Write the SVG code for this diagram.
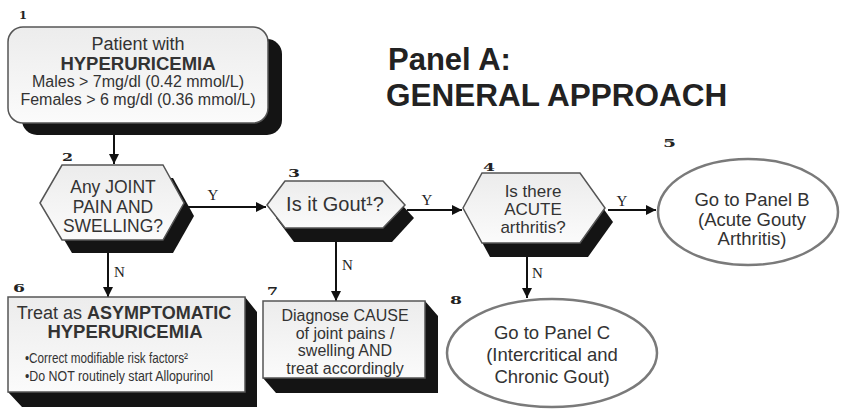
<svg xmlns="http://www.w3.org/2000/svg" width="843" height="409" viewBox="0 0 843 409">
<defs>
<linearGradient id="g" x1="0" y1="0" x2="0" y2="1">
<stop offset="0" stop-color="#ececec"/>
<stop offset="1" stop-color="#fbfbfb"/>
</linearGradient>
<marker id="ah" viewBox="0 0 10 10" refX="10" refY="5" markerWidth="10" markerHeight="10" markerUnits="userSpaceOnUse" orient="auto">
<path d="M0,0 L10,5 L0,10 z" fill="#111"/>
</marker>
<style>
.t{font-family:"Liberation Sans",Arial,sans-serif;fill:#333;text-anchor:middle}
.b{font-weight:bold}
.num{font-family:"DejaVu Serif",serif;font-weight:bold;font-size:11px;fill:#222}
.lbl{font-family:"Liberation Serif","Times New Roman",serif;font-size:15px;fill:#222}
.face{fill:url(#g);stroke:#555;stroke-width:1.5}
.sh{fill:#141414}
.ell{fill:#fff;stroke:#7a7a7a;stroke-width:2.5}
.c{stroke:#111;stroke-width:2;fill:none;marker-end:url(#ah)}
</style>
</defs>
<rect width="843" height="409" fill="#fff"/>

<g id="title">
<text x="388" y="70" style="font-family:'Liberation Sans',Arial,sans-serif;font-weight:bold;font-size:31px;fill:#222">Panel A:</text>
<text x="386" y="106" style="font-family:'Liberation Sans',Arial,sans-serif;font-weight:bold;font-size:31.5px;fill:#222">GENERAL APPROACH</text>
</g>

<g id="connectors">
<line class="c" x1="114" y1="134" x2="114" y2="164"/>
<line class="c" x1="186" y1="207" x2="266" y2="207"/>
<text class="lbl" x="213" y="200" text-anchor="middle">Y</text>
<line class="c" x1="407" y1="210" x2="462" y2="210"/>
<text class="lbl" x="427" y="205" text-anchor="middle">Y</text>
<line class="c" x1="608" y1="210" x2="656" y2="210"/>
<text class="lbl" x="622" y="206" text-anchor="middle">Y</text>
<line class="c" x1="108" y1="252" x2="108" y2="297"/>
<text class="lbl" x="114" y="277">N</text>
<line class="c" x1="336" y1="241" x2="336" y2="301"/>
<text class="lbl" x="342" y="270">N</text>
<line class="c" x1="527" y1="256" x2="527" y2="298"/>
<text class="lbl" x="532" y="278">N</text>
</g>

<g id="node1">
<text class="num" x="19" y="19" textLength="8" lengthAdjust="spacingAndGlyphs">1</text>
<rect class="sh" x="22" y="39" width="260" height="96" rx="15"/>
<rect class="face" x="8" y="27" width="260" height="96" rx="15"/>
<text class="t" x="138" y="50" font-size="18">Patient with</text>
<text class="t b" x="138" y="70" font-size="18.5">HYPERURICEMIA</text>
<text class="t" x="138" y="87" font-size="16">Males &gt; 7mg/dl (0.42 mmol/L)</text>
<text class="t" x="138" y="105" font-size="16">Females &gt; 6 mg/dl (0.36 mmol/L)</text>
</g>

<g id="node2">
<text class="num" x="62" y="161" textLength="11" lengthAdjust="spacingAndGlyphs">2</text>
<polygon class="sh" points="50,216 72,178 173,178 194,216 173,253 72,253"/>
<polygon class="face" points="40,203 62,165 163,165 184,203 163,240 62,240"/>
<text class="t" x="113" y="193" font-size="17.5">Any JOINT</text>
<text class="t" x="113" y="213" font-size="17.5">PAIN AND</text>
<text class="t" x="113" y="232" font-size="17.5">SWELLING?</text>
</g>

<g id="node3">
<text class="num" x="288" y="177" textLength="12" lengthAdjust="spacingAndGlyphs">3</text>
<polygon class="sh" points="276,218 294,194 392,194 414,218 392,242 294,242"/>
<polygon class="face" points="267,205 285,181 383,181 405,205 383,228 285,228"/>
<text class="t" x="335" y="211" font-size="20">Is it Gout¹?</text>
</g>

<g id="node4">
<text class="num" x="483" y="171" textLength="12" lengthAdjust="spacingAndGlyphs">4</text>
<polygon class="sh" points="471,222 490,187 588,187 613,222 588,257 490,257"/>
<polygon class="face" points="463,208 482,173 580,173 605,208 580,243 482,243"/>
<text class="t" x="533" y="197" font-size="17">Is there</text>
<text class="t" x="533" y="215" font-size="17">ACUTE</text>
<text class="t" x="533" y="233" font-size="17">arthritis?</text>
</g>

<g id="node5">
<text class="num" x="663" y="147" textLength="13" lengthAdjust="spacingAndGlyphs">5</text>
<ellipse class="ell" cx="748" cy="212" rx="90" ry="53"/>
<text class="t" x="752" y="206" font-size="18.5">Go to Panel B</text>
<text class="t" x="752" y="226" font-size="18.5">(Acute Gouty</text>
<text class="t" x="752" y="245" font-size="18.5">Arthritis)</text>
</g>

<g id="node6">
<text class="num" x="13" y="292" textLength="12" lengthAdjust="spacingAndGlyphs">6</text>
<polygon class="sh" points="245,297 257,312 257,407 22,407 8,392 245,392"/>
<rect class="face" x="8" y="297" width="237" height="95"/>
<text class="t" x="124" y="319" font-size="18">Treat as <tspan class="b">ASYMPTOMATIC</tspan></text>
<text class="t b" x="125" y="338" font-size="18.5">HYPERURICEMIA</text>
<text x="25" y="363" font-size="14" textLength="163" lengthAdjust="spacingAndGlyphs" style="font-family:'Liberation Sans',Arial,sans-serif;fill:#333">•Correct modifiable risk factors²</text>
<text x="25" y="381" font-size="14" textLength="188" lengthAdjust="spacingAndGlyphs" style="font-family:'Liberation Sans',Arial,sans-serif;fill:#333">•Do NOT routinely start Allopurinol</text>
</g>

<g id="node7">
<text class="num" x="267" y="295" textLength="11" lengthAdjust="spacingAndGlyphs">7</text>
<polygon class="sh" points="425,301 438,316 438,393 276,393 263,378 425,378"/>
<rect class="face" x="263" y="301" width="162" height="77"/>
<text class="t" x="345" y="321" font-size="16">Diagnose CAUSE</text>
<text class="t" x="345" y="338.5" font-size="16">of joint pains /</text>
<text class="t" x="345" y="356" font-size="16">swelling AND</text>
<text class="t" x="345" y="373.5" font-size="16">treat accordingly</text>
</g>

<g id="node8">
<text class="num" x="450" y="304" textLength="12" lengthAdjust="spacingAndGlyphs">8</text>
<ellipse class="ell" cx="552" cy="353" rx="105" ry="54"/>
<text class="t" x="552" y="339" font-size="18.5">Go to Panel C</text>
<text class="t" x="552" y="361" font-size="18.5">(Intercritical and</text>
<text class="t" x="552" y="383" font-size="18.5">Chronic Gout)</text>
</g>
</svg>
